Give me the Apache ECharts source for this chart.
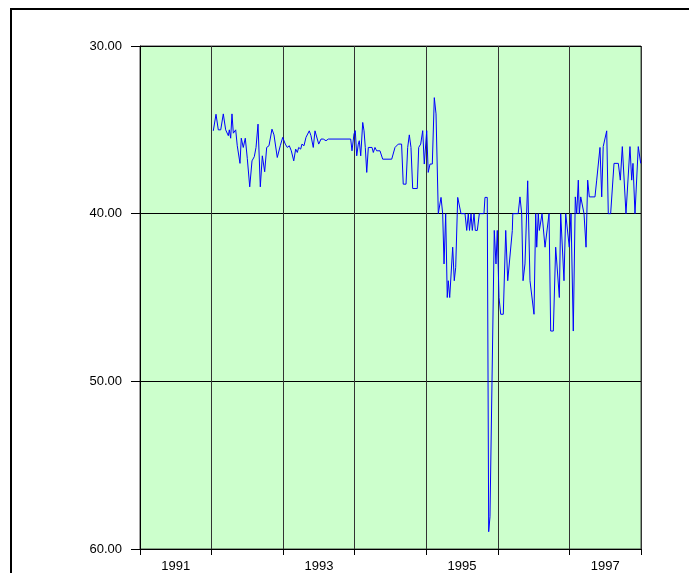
<!DOCTYPE html>
<html>
<head>
<meta charset="utf-8">
<script src="https://cdn.jsdelivr.net/npm/echarts@6/dist/echarts.min.js"></script>
<style>
html, body { margin: 0; padding: 0; background: #fff; }
#main { width: 689px; height: 573px; }
</style>
</head>
<body>
<div id="main"></div>
<script>
// decimal years of each observation
const dates = [
  1992.024, 1992.062, 1992.094, 1992.128, 1992.164, 1992.197, 1992.234, 1992.248, 1992.267, 1992.285,
  1992.304, 1992.337, 1992.359, 1992.397, 1992.415, 1992.443, 1992.471, 1992.499, 1992.533, 1992.565,
  1992.597, 1992.621, 1992.649, 1992.681, 1992.709, 1992.742, 1992.770, 1992.802, 1992.844, 1992.872,
  1992.918, 1992.960, 1992.994, 1993.030, 1993.058, 1993.086, 1993.114, 1993.148, 1993.175, 1993.198,
  1993.217, 1993.245, 1993.263, 1993.291, 1993.319, 1993.343, 1993.365, 1993.389, 1993.421, 1993.445,
  1993.469, 1993.497, 1993.529, 1993.561, 1993.599, 1993.631, 1993.944, 1993.962, 1993.990, 1994.008,
  1994.028, 1994.050, 1994.064, 1994.084, 1994.112, 1994.130, 1994.148, 1994.168, 1994.190, 1994.242,
  1994.260, 1994.283, 1994.307, 1994.330, 1994.353, 1994.391, 1994.517, 1994.540, 1994.563, 1994.609,
  1994.655, 1994.678, 1994.717, 1994.740, 1994.763, 1994.786, 1994.810, 1994.874, 1994.894, 1994.922,
  1994.950, 1994.972, 1995.006, 1995.027, 1995.052, 1995.084, 1995.112, 1995.136, 1995.168, 1995.206,
  1995.229, 1995.248, 1995.271, 1995.293, 1995.307, 1995.327, 1995.369, 1995.391, 1995.411, 1995.439,
  1995.461, 1995.485, 1995.541, 1995.565, 1995.587, 1995.604, 1995.625, 1995.643, 1995.667, 1995.685,
  1995.713, 1995.741, 1995.806, 1995.820, 1995.852, 1995.872, 1995.890, 1995.914, 1995.950, 1995.974,
  1995.992, 1996.016, 1996.040, 1996.076, 1996.110, 1996.138, 1996.202, 1996.209, 1996.284, 1996.309,
  1996.333, 1996.352, 1996.379, 1996.398, 1996.417, 1996.449, 1996.505, 1996.529, 1996.543, 1996.565,
  1996.580, 1996.617, 1996.659, 1996.683, 1996.715, 1996.738, 1996.775, 1996.808, 1996.831, 1996.859,
  1996.878, 1996.924, 1996.948, 1996.969, 1996.998, 1997.022, 1997.054, 1997.082, 1997.102, 1997.124,
  1997.138, 1997.158, 1997.180, 1997.204, 1997.232, 1997.255, 1997.278, 1997.357, 1997.381, 1997.404,
  1997.427, 1997.451, 1997.472, 1997.497, 1997.521, 1997.543, 1997.576, 1997.623, 1997.683, 1997.711,
  1997.739, 1997.762, 1997.790, 1997.846, 1997.870, 1997.888, 1997.916, 1997.962, 1997.996
];

// series values
const values = [
  35.06, 34.07, 35.0, 35.0, 34.05, 35.0, 35.35, 35.0, 35.5, 34.05,
  35.2, 35.0, 35.95, 37.0, 35.5, 36.05, 35.5, 36.7, 38.4, 36.85,
  36.6, 36.05, 34.66, 38.4, 36.55, 37.5, 36.05, 35.95, 34.96, 35.3,
  36.65, 35.95, 35.45, 35.85, 36.05, 35.95, 36.25, 36.85, 36.15, 36.35,
  36.05, 36.15, 35.85, 35.95, 35.45, 35.55, 35.06, 35.35, 36.05, 35.06,
  35.06, 35.85, 35.55, 35.55, 35.65, 35.55, 35.55, 36.25, 35.25, 35.05,
  36.55, 35.85, 35.65, 36.55, 34.56, 35.06, 36.05, 37.54, 36.05, 36.05,
  36.35, 36.05, 36.25, 36.15, 36.25, 36.75, 36.75, 36.65, 36.05, 35.85,
  35.85, 38.24, 38.24, 36.05, 35.3, 36.05, 38.5, 38.5, 36.05, 35.85,
  35.05, 37.04, 35.05, 37.54, 37.04, 37.04, 33.08, 34.05, 40.0, 39.03,
  40.0, 43.0, 40.0, 45.0, 44.0, 45.0, 42.0, 44.0, 43.2, 39.03,
  39.03, 40.0, 40.0, 41.0, 40.0, 41.0, 40.0, 41.0, 40.0, 41.0,
  41.0, 40.0, 40.0, 39.03, 39.03, 58.97, 58.08, 58.08, 41.0, 43.0,
  41.0, 45.0, 46.0, 46.0, 41.0, 44.0, 41.0, 40.0, 40.0, 39.0,
  40.0, 44.0, 43.0, 43.0, 38.04, 44.0, 46.0, 40.0, 42.0, 40.0,
  41.0, 40.0, 42.0, 42.0, 40.0, 47.0, 47.0, 42.0, 42.0, 45.0,
  40.0, 44.0, 40.0, 40.0, 42.0, 40.0, 47.0, 39.0, 40.0, 38.0,
  40.0, 39.0, 39.0, 40.0, 42.0, 38.0, 39.0, 39.0, 38.0, 38.0,
  36.05, 39.0, 36.0, 36.0, 35.06, 40.0, 40.0, 37.0, 37.0, 38.0,
  36.0, 36.0, 40.0, 36.0, 38.0, 37.0, 40.0, 36.0, 37.0
];

// year labels, one per band (only odd years are written)
const yearLabels = ['1991', '', '1993', '', '1995', '', '1997'];

const chart = echarts.init(document.getElementById('main'));

const option = {
    animation: false,
    backgroundColor: '#ffffff',
    textStyle: { fontFamily: 'Liberation Sans, Arial, sans-serif' },
    graphic: [{
        type: 'rect',
        shape: { x: 11, y: 9, width: 760, height: 640 },
        style: { fill: 'none', stroke: '#000', lineWidth: 2 },
        silent: true
    }],
    grid: {
        left: 140, right: 48, top: 46, bottom: 23,
        show: true, backgroundColor: '#ccffcc',
        borderColor: '#444', borderWidth: 1
    },
    xAxis: [{
        type: 'value', min: 1991, max: 1998, interval: 1,
        axisLine: { show: true, lineStyle: { color: '#000' } },
        axisTick: { show: true, length: 6, lineStyle: { color: '#000' } },
        axisLabel: { show: false },
        splitLine: { show: true, lineStyle: { color: '#333', width: 1 } }
    }, {
        type: 'category', position: 'bottom', data: yearLabels,
        boundaryGap: true,
        axisLine: { show: false },
        axisTick: { show: false },
        splitLine: { show: false },
        axisLabel: { interval: 0, margin: 11, color: '#000', fontSize: 13 }
    }],
    yAxis: {
        type: 'value', inverse: true, min: 30, max: 60, interval: 10,
        axisLine: { show: true, lineStyle: { color: '#000' } },
        axisTick: { show: true, length: 9, lineStyle: { color: '#000' } },
        axisLabel: {
            margin: 18, color: '#000', fontSize: 13,
            formatter: (v) => v.toFixed(2)
        },
        splitLine: { show: true, lineStyle: { color: '#000', width: 1 } }
    },
    series: [{
        type: 'line',
        xAxisIndex: 0,
        data: dates.map((d, i) => [d, values[i]]),
        showSymbol: false,
        lineStyle: { color: '#0000ff', width: 1 },
        itemStyle: { color: '#0000ff' }
    }]
};

chart.setOption(option);
</script>
</body>
</html>
